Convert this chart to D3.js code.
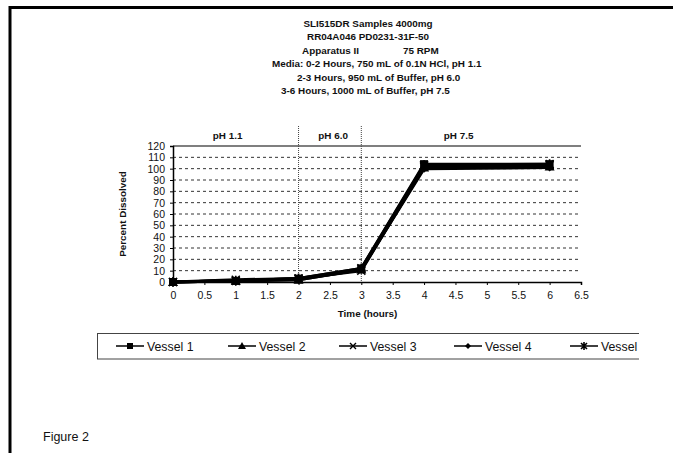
<!DOCTYPE html>
<html>
<head>
<meta charset="utf-8">
<script src="https://cdn.jsdelivr.net/npm/d3@7"></script>
<style>
  html, body { margin: 0; padding: 0; background: #fff; }
  svg { display: block; font-family: "Liberation Sans", Arial, sans-serif; }
</style>
</head>
<body>
<svg id="chart" width="673" height="453"></svg>
<script>
// Sampling times (hours)
const times = [0, 1, 2, 3, 4, 6];

// Percent dissolved per vessel
const vessel1 = [0, 1, 3, 12, 104, 104];
const vessel2 = [0, 1, 2, 11, 101, 102];
const vessel3 = [0, 2, 3, 10, 102, 103];
const vessel4 = [0, 1, 2, 11, 100, 101];
const vessel5 = [0, 1, 3, 12, 103, 104];

const seriesNames = ["Vessel 1", "Vessel 2", "Vessel 3", "Vessel 4", "Vessel 5"];
const seriesValues = [vessel1, vessel2, vessel3, vessel4, vessel5];
const markerKinds = ["square", "triangle", "cross", "diamond", "star"];

// Axis ticks
const xTicks = [0, 0.5, 1, 1.5, 2, 2.5, 3, 3.5, 4, 4.5, 5, 5.5, 6, 6.5];
const yTicks = [0, 10, 20, 30, 40, 50, 60, 70, 80, 90, 100, 110, 120];
const yGrid = [10, 20, 30, 40, 50, 60, 70, 80, 90, 100, 110];

// Media phases: boundary times and labels
const phaseBounds = [2, 3];
const phaseLabels = [
  { label: "pH 1.1", at: 0.87 },
  { label: "pH 6.0", at: 2.55 },
  { label: "pH 7.5", at: 4.55 }
];

const titleLines = [
  "SLI515DR Samples 4000mg",
  "RR04A046  PD0231-31F-50",
  "Apparatus II",
  "Media:  0-2 Hours,  750 mL of 0.1N HCl, pH 1.1",
  "2-3 Hours, 950 mL of Buffer, pH 6.0",
  "3-6 Hours, 1000 mL of Buffer, pH 7.5"
];

const svg = d3.select("#chart");

const x = d3.scaleLinear().domain([0, 6.5]).range([173, 581]);
const y = d3.scaleLinear().domain([0, 120]).range([282, 146]);

// Page frame (top and left rules)
svg.append("line").attr("x1", 10).attr("x2", 673).attr("y1", 7.5).attr("y2", 7.5)
  .attr("stroke", "#000").attr("stroke-width", 3);
svg.append("line").attr("x1", 10).attr("x2", 10).attr("y1", 6).attr("y2", 453)
  .attr("stroke", "#000").attr("stroke-width", 3);

// Title block
const title = svg.append("g").attr("font-weight", "bold").attr("font-size", 9.9).attr("fill", "#111");
title.append("text").attr("x", 368).attr("y", 27).attr("text-anchor", "middle").text(titleLines[0]);
title.append("text").attr("x", 368).attr("y", 40.3).attr("text-anchor", "middle").text(titleLines[1]);
title.append("text").attr("x", 302).attr("y", 53.7).text(titleLines[2]);
title.append("text").attr("x", 403).attr("y", 53.7).text("75 RPM");
title.append("text").attr("x", 272).attr("y", 67.2).text(titleLines[3]);
title.append("text").attr("x", 297).attr("y", 80.6).text(titleLines[4]);
title.append("text").attr("x", 281).attr("y", 94).text(titleLines[5]);

// Horizontal dashed gridlines
svg.append("g").selectAll("line").data(yGrid).join("line")
  .attr("x1", x(0)).attr("x2", x(6.5))
  .attr("y1", d => y(d)).attr("y2", d => y(d))
  .attr("stroke", "#333").attr("stroke-width", 1)
  .attr("stroke-dasharray", "3,3");

// Top border of plot area
svg.append("line").attr("x1", x(0)).attr("x2", x(6.5)).attr("y1", y(120)).attr("y2", y(120))
  .attr("stroke", "#000").attr("stroke-width", 1.2);

// Media change boundaries
svg.append("g").selectAll("line").data(phaseBounds).join("line")
  .attr("x1", d => x(d)).attr("x2", d => x(d))
  .attr("y1", 126).attr("y2", y(0))
  .attr("stroke", "#444").attr("stroke-width", 1)
  .attr("stroke-dasharray", "1,1");

svg.append("g").selectAll("text").data(phaseLabels).join("text")
  .attr("x", d => x(d.at)).attr("y", 138.5)
  .attr("text-anchor", "middle").attr("font-size", 9.9).attr("font-weight", "bold")
  .attr("fill", "#111")
  .text(d => d.label);

// Axes
const xAxis = svg.append("g").attr("transform", `translate(0,${y(0)})`)
  .call(d3.axisBottom(x).tickValues(xTicks).tickSize(3).tickFormat(d3.format("")));
const yAxis = svg.append("g").attr("transform", `translate(${x(0)},0)`)
  .call(d3.axisLeft(y).tickValues(yTicks).tickSize(3));
[xAxis, yAxis].forEach(a => {
  a.select(".domain").attr("stroke", "#000").attr("stroke-width", 1.5);
  a.selectAll(".tick line").attr("stroke", "#000");
  a.selectAll(".tick text").attr("font-family", "Liberation Sans, Arial, sans-serif")
    .attr("font-size", 10.5).attr("fill", "#111");
});
xAxis.selectAll(".tick text").attr("dy", "1.05em");
yAxis.selectAll(".tick text").attr("x", -8);

// Axis titles
svg.append("text").attr("x", x(3.1)).attr("y", 317).attr("text-anchor", "middle")
  .attr("font-size", 9.9).attr("font-weight", "bold").attr("fill", "#111").text("Time (hours)");
svg.append("text").attr("transform", `translate(126,${y(60)}) rotate(-90)`)
  .attr("text-anchor", "middle").attr("font-size", 9.9).attr("font-weight", "bold")
  .attr("fill", "#111").text("Percent Dissolved");

// Marker shapes
function drawMarker(g, kind, cx, cy, s) {
  const h = s / 2;
  if (kind === "square") {
    g.append("rect").attr("x", cx - h).attr("y", cy - h).attr("width", s).attr("height", s).attr("fill", "#000");
  } else if (kind === "triangle") {
    g.append("path").attr("d", `M${cx},${cy - h - 1}L${cx + h + 1},${cy + h}L${cx - h - 1},${cy + h}Z`).attr("fill", "#000");
  } else if (kind === "cross") {
    g.append("path").attr("d", `M${cx - h},${cy - h}L${cx + h},${cy + h}M${cx - h},${cy + h}L${cx + h},${cy - h}`)
      .attr("stroke", "#000").attr("stroke-width", 1.4);
  } else if (kind === "diamond") {
    g.append("path").attr("d", `M${cx},${cy - h}L${cx + h},${cy}L${cx},${cy + h}L${cx - h},${cy}Z`).attr("fill", "#000");
  } else {
    g.append("path").attr("d", `M${cx - h},${cy - h}L${cx + h},${cy + h}M${cx - h},${cy + h}L${cx + h},${cy - h}M${cx},${cy - h - 1}L${cx},${cy + h + 1}`)
      .attr("stroke", "#000").attr("stroke-width", 1.6);
  }
}

// Series lines and markers
const line = d3.line().x(d => x(d[0])).y(d => y(d[1]));
const seriesG = svg.append("g");
seriesValues.forEach((vals, i) => {
  const pts = times.map((t, j) => [t, vals[j]]);
  seriesG.append("path").datum(pts).attr("d", line)
    .attr("fill", "none").attr("stroke", "#000").attr("stroke-width", 3)
    .attr("stroke-linejoin", "round");
});
seriesValues.forEach((vals, i) => {
  const g = seriesG.append("g");
  times.forEach((t, j) => drawMarker(g, markerKinds[i], x(t), y(vals[j]), 8));
});

// Legend box (clipped at the right)
svg.append("clipPath").attr("id", "legendClip")
  .append("rect").attr("x", 90).attr("y", 325).attr("width", 549).attr("height", 45);
const legend = svg.append("g").attr("clip-path", "url(#legendClip)");
legend.append("rect").attr("x", 97.5).attr("y", 333.5).attr("width", 600).attr("height", 25.5)
  .attr("fill", "none").attr("stroke", "#444").attr("stroke-width", 1);
const legendX = [116, 228, 339, 454, 570];
seriesNames.forEach((name, i) => {
  const lx = legendX[i];
  const g = legend.append("g");
  g.append("line").attr("x1", lx).attr("x2", lx + 28).attr("y1", 346).attr("y2", 346)
    .attr("stroke", "#000").attr("stroke-width", 1.5);
  drawMarker(g, markerKinds[i], lx + 14, 346, 6);
  g.append("text").attr("x", lx + 31).attr("y", 350.5).attr("font-size", 12.3)
    .attr("fill", "#111").text(name);
});

// Caption
svg.append("text").attr("x", 43).attr("y", 441).attr("font-size", 12.5).attr("fill", "#111").text("Figure 2");
</script>
</body>
</html>
